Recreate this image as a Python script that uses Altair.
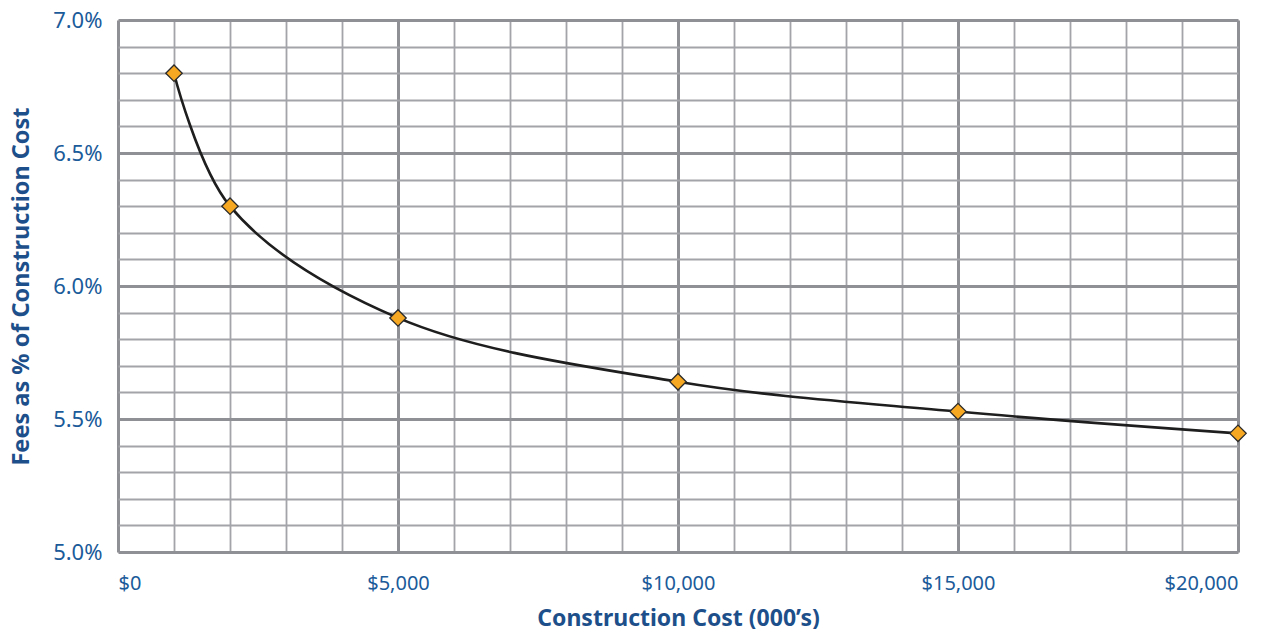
import altair as alt
import pandas as pd

cost = [1000, 2000, 5000, 10000, 15000, 20000]
fee_pct = [6.80, 6.30, 5.88, 5.64, 5.528, 5.446]

x_ticks = list(range(0, 20001, 1000))
y_ticks = [round(5.0 + 0.1 * i, 1) for i in range(21)]

df = pd.DataFrame({"cost": cost, "fee": fee_pct})

FONT = "Noto Sans"
TXT = "#1b5b9a"
TITLE = "#1d4f8a"

x_enc = alt.X(
    "cost:Q",
    scale=alt.Scale(domain=[0, 20000], nice=False, zero=False),
    axis=alt.Axis(
        values=x_ticks,
        labelExpr="datum.value % 5000 === 0 ? '$' + format(datum.value, ',') : ''",
        title="Construction Cost (000\u2019s)",
        titleFont=FONT, titleFontSize=23, titleFontWeight="bold", titleColor=TITLE,
        titlePadding=14,
        labelFont=FONT, labelFontSize=20, labelColor=TXT, labelPadding=21,
        ticks=False, domain=False,
        gridColor={"condition": {"test": "datum.value % 5000 === 0", "value": "#8f9096"}, "value": "#a3a4aa"},
        gridWidth={"condition": {"test": "datum.value % 5000 === 0", "value": 3}, "value": 1.8},
        labelOverlap=False,
    ),
)
y_enc = alt.Y(
    "fee:Q",
    scale=alt.Scale(domain=[5.0, 7.0], nice=False, zero=False),
    axis=alt.Axis(
        values=y_ticks,
        labelExpr="(round(datum.value * 10) % 5 === 0) ? format(datum.value, '.1f') + '%' : ''",
        title="Fees as % of Construction Cost",
        titleFont=FONT, titleFontSize=23.5, titleFontWeight="bold", titleColor=TITLE,
        titlePadding=19,
        labelFont=FONT, labelFontSize=22, labelColor=TXT, labelPadding=16,
        ticks=False, domain=False,
        gridColor={"condition": {"test": "round(datum.value * 10) % 5 === 0", "value": "#8f9096"}, "value": "#a3a4aa"},
        gridWidth={"condition": {"test": "round(datum.value * 10) % 5 === 0", "value": 3}, "value": 1.8},
        labelOverlap=False,
    ),
)

base = alt.Chart(df).encode(x=x_enc, y=y_enc)

line = base.mark_line(
    interpolate="catmull-rom", color="#1e1e1e", strokeWidth=2.6
)

points = base.mark_point(
    shape="diamond", filled=True, fill="#f7a823", stroke="#2a2a2a",
    strokeWidth=1.3, size=270, opacity=1
)

chart = alt.layer(line, points).properties(
    width=1120, height=532,
    autosize=alt.AutoSizeParams(type="none"),
    padding={"left": 110, "top": 12, "right": 39, "bottom": 77},
).configure_view(
    fill="#d1d5ea", stroke="#9c9ca2", strokeWidth=3
).configure(background="white")

chart.save("out.html", embed_options={"renderer": "svg", "actions": False})
